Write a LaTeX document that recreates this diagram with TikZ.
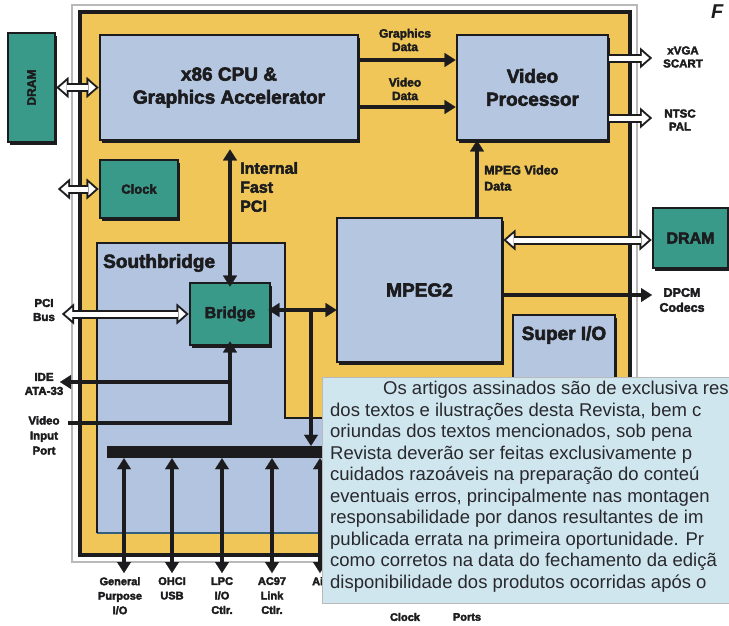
\documentclass[tikz,border=0pt]{standalone}
\usepackage{fontspec}
\setmainfont[BoldFeatures={FakeBold=3}]{Liberation Sans}
\usetikzlibrary{arrows.meta,calc,shadows}
\definecolor{ylw}{RGB}{240,198,88}
\definecolor{bluebox}{RGB}{180,198,224}
\definecolor{tealbox}{RGB}{58,154,138}
\definecolor{ink}{RGB}{28,28,30}
\definecolor{notebg}{RGB}{208,230,238}
\definecolor{framegray}{RGB}{185,185,185}
\definecolor{sbfill}{RGB}{178,196,224}
\definecolor{sbedge}{RGB}{50,95,125}
\definecolor{notetext}{RGB}{40,40,45}
\newcommand\hollowone[2]{%
  \draw[hout, -{Triangle[length=12pt,width=21pt,line width=0.2pt]}] #1 -- #2;
  \draw[hin, -{Triangle[length=7.2pt,width=12.6pt,line width=0.2pt]}, shorten >=3pt] #1 -- #2;}
\newcommand\hollowtwo[2]{%
  \draw[hout, {Triangle[length=12pt,width=21pt,line width=0.2pt]}-{Triangle[length=12pt,width=21pt,line width=0.2pt]}] #1 -- #2;
  \draw[hin, {Triangle[length=7.2pt,width=12.6pt,line width=0.2pt]}-{Triangle[length=7.2pt,width=12.6pt,line width=0.2pt]}, shorten >=3pt, shorten <=3pt] #1 -- #2;}
\begin{document}
\begin{tikzpicture}[x=1pt,y=-1pt,
  title/.style={inner sep=0pt, align=center, text=ink, font=\bfseries\fontsize{19}{23}\selectfont},
  box/.style={title, draw=ink, line width=2.8pt, fill=bluebox,
    drop shadow={shadow xshift=2.2pt, shadow yshift=-2.5pt, fill=ink, opacity=1}},
  tbox/.style={box, fill=tealbox},
  lbl/.style={font=\bfseries\fontsize{12}{13.5}\selectfont, align=center, text=ink, inner sep=0pt},
  tipb/.tip={Triangle[length=11pt,width=14pt,line width=0.2pt]},
  arr/.style={draw=ink, line width=3.6pt, -tipb},
  arrb/.style={draw=ink, line width=3.6pt, tipb-tipb},
  hout/.style={draw=ink, line width=9pt},
  hin/.style={draw=white, line width=5pt},
  notetxt/.style={anchor=west, inner sep=0pt, text=notetext, font=\fontsize{18.5}{20}\selectfont},
]
\useasboundingbox (0,0) rectangle (729,625);
\fill[white] (0,0) rectangle (729,625);
% frames
\draw[framegray, line width=1.5pt] (72,5) rectangle (637,562);
\draw[ink, line width=3.2pt, fill=ylw] (80,12) rectangle (630,555);

% boxes
\node[tbox, minimum width=47pt, minimum height=109pt] (dramL) at (31.5,87.5)
  {\rotatebox{90}{\fontsize{12}{12}\selectfont DRAM}};
\node[box, minimum width=258pt, minimum height=105pt] (cpu) at (229,87.5) {x86 CPU \&\\Graphics Accelerator};
\node[box, minimum width=151pt, minimum height=105pt] (vp) at (532.5,87.5) {Video\\Processor};
\node[tbox, minimum width=78pt, minimum height=58pt, font=\bfseries\fontsize{13}{13}\selectfont] (clock) at (139,189) {Clock};
\node[box, minimum width=165pt, minimum height=144pt] (mpeg) at (419.5,290) {MPEG2};
\node[tbox, minimum width=75pt, minimum height=60pt, font=\bfseries\fontsize{16}{16}\selectfont] (dramR) at (690.5,238) {DRAM};
\node[box, minimum width=102pt, minimum height=110pt] (sio) at (564,370) {};
\node[title] (siot) at (564,335) {Super I/O};

% southbridge
\fill[sbfill] (97,243) -- (285,243) -- (285,418) -- (345,418) -- (345,533) -- (97,533) -- cycle;
\draw[sbedge, line width=2pt] (97,533) -- (345,533);
\draw[ink, line width=2.8pt] (97,533) -- (97,243) -- (285,243) -- (285,418) -- (345,418);
\node[title, anchor=west, font=\bfseries\fontsize{19}{19}\selectfont] (sbt) at (103,263) {Southbridge};
\node[tbox, minimum width=80pt, minimum height=62pt, font=\bfseries\fontsize{16}{16}\selectfont] (bridge) at (230,314) {Bridge};
\node[fill=ink, minimum width=240pt, minimum height=12pt, inner sep=0pt] (bus) at (227,452) {};

% coordinates
\coordinate (yGD) at (0,60);
\coordinate (yVD) at (0,107);
\coordinate (yO1) at (0,58);
\coordinate (yO2) at (0,118);
\coordinate (xMV) at (477,0);
\coordinate (yMD) at (0,240);
\coordinate (yBM) at (0,310);
\coordinate (xV) at (311,0);
\coordinate (outA) at (652,58);
\coordinate (outB) at (652,118);
\coordinate (dpcm) at (652,295);
\coordinate (clkL) at (58,189);
\coordinate (pciL) at (62,314);
\coordinate (ideT) at (230,382);
\coordinate (ideL) at (60,382);
\coordinate (vidL) at (68,423);
\coordinate (vidC) at (230,423);

% connectors
\hollowtwo{(dramL.east)}{(cpu.west)}
\hollowtwo{(clkL)}{(clock.west)}
\draw[arr] (cpu.east |- yGD) -- (vp.west |- yGD);
\draw[arr] (cpu.east |- yVD) -- (vp.west |- yVD);
\hollowone{(vp.east |- yO1)}{(outA)}
\hollowone{(vp.east |- yO2)}{(outB)}
\draw[arr, shorten >=-1pt] (mpeg.north -| xMV) -- (vp.south -| xMV);
\hollowtwo{(mpeg.east |- yMD)}{(dramR.west |- yMD)}
\draw[arr] (mpeg.east |- dpcm) -- (dpcm);
\draw[arrb, shorten >=8pt, shorten <=-5pt] (bridge.north) -- (bridge.north |- cpu.south);
\hollowtwo{(pciL)}{(bridge.west)}
\draw[arrb, shorten <=-3pt, shorten >=-1pt] (bridge.east |- yBM) -- (mpeg.west |- yBM);
\draw[arr] (xV |- yBM) -- (xV |- bus.north);
\draw[arr, shorten >=-5pt] (vidL) -- (vidC) -- (bridge.south);
\draw[arr] (ideT) -- (ideL);

% bus ports
\foreach \x/\n in {124/a,172/b,222/c,272/d,320/e} {
  \coordinate (p\n) at (\x,573);
  \draw[arrb] (p\n) -- (p\n |- bus.south);
}

% labels
\node[lbl] (lGD) at (405,40) {Graphics\\Data};
\node[lbl] (lVD) at (405,89) {Video\\Data};
\node[lbl, anchor=west, align=left, font=\bfseries\fontsize{16}{19}\selectfont] (lIF) at (240,187) {Internal\\Fast\\PCI};
\node[lbl, anchor=west, align=left, font=\bfseries\fontsize{12.5}{16}\selectfont] (lMV) at (484,178) {MPEG Video\\Data};
\node[lbl, font=\bfseries\fontsize{11.5}{13}\selectfont] (lO1) at (683,57) {xVGA\\SCART};
\node[lbl, font=\bfseries\fontsize{11.5}{13}\selectfont] (lO2) at (680,120) {NTSC\\PAL};
\node[lbl, font=\bfseries\fontsize{12.5}{15}\selectfont] (lDP) at (682,300) {DPCM\\Codecs};
\node[lbl, font=\bfseries\fontsize{11.5}{14}\selectfont] (lPCI) at (44,310) {PCI\\Bus};
\node[lbl, font=\bfseries\fontsize{11.5}{14}\selectfont] (lIDE) at (44,384) {IDE\\ATA-33};
\node[lbl, anchor=north, font=\bfseries\fontsize{11.5}{15}\selectfont] (lVI) at (44,416) {Video\\Input\\Port};
\node[lbl, anchor=north, font=\bfseries\fontsize{11}{14.5}\selectfont] (la) at (120,577) {General\\Purpose\\I/O};
\node[lbl, anchor=north, font=\bfseries\fontsize{11}{14.5}\selectfont] (lb) at (172,577) {OHCI\\USB};
\node[lbl, anchor=north, font=\bfseries\fontsize{11}{14.5}\selectfont] (lc) at (222,577) {LPC\\I/O\\Ctlr.};
\node[lbl, anchor=north, font=\bfseries\fontsize{11}{14.5}\selectfont] (ld) at (272,577) {AC97\\Link\\Ctlr.};
\node[lbl, anchor=north west, font=\bfseries\fontsize{11}{14.5}\selectfont] (le) at (312,577) {Ai};
\node[anchor=west, inner sep=0pt, text=ink, font=\bfseries\itshape\fontsize{20}{20}\selectfont] (fig) at (711,12) {F};

% overlay note
\node[fill=notebg, draw=framegray, line width=1pt, minimum width=420pt, minimum height=226pt,
  anchor=north west, inner sep=0pt] (note) at (322,377) {};
\node[notetxt] (n1) at (383,390) {Os artigos assinados são de exclusiva res};
\node[notetxt] (n2) at (330,411.5) {dos textos e ilustrações desta Revista, bem c};
\node[notetxt] (n3) at (330,433) {oriundas dos textos mencionados, sob pena};
\node[notetxt] (n4) at (330,454.5) {Revista deverão ser feitas exclusivamente p};
\node[notetxt] (n5) at (330,476) {cuidados razoáveis na preparação do conteú};
\node[notetxt] (n6) at (330,497.5) {eventuais erros, principalmente nas montagen};
\node[notetxt] (n7) at (330,519) {responsabilidade por danos resultantes de im};
\node[notetxt] (n8) at (330,540.5) {publicada errata na primeira oportunidade. Pr};
\node[notetxt] (n9) at (330,562) {como corretos na data do fechamento da ediçã};
\node[notetxt] (n10) at (330,583.5) {disponibilidade dos produtos ocorridas após o};
\node[lbl, font=\bfseries\fontsize{11}{12}\selectfont] (lck) at (405,617) {Clock};
\node[lbl, font=\bfseries\fontsize{11}{12}\selectfont] (lpt) at (467,617) {Ports};
\end{tikzpicture}
\end{document}
